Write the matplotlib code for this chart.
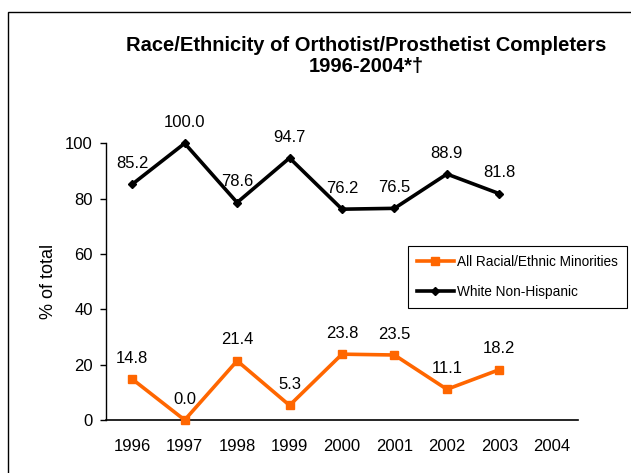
import numpy as np
import matplotlib.pyplot as plt
from matplotlib.patches import Rectangle

plt.rcParams['font.family'] = ['Liberation Sans', 'DejaVu Sans']

# data
years = ['1996', '1997', '1998', '1999', '2000', '2001', '2002', '2003', '2004']
minorities = [14.8, 0.0, 21.4, 5.3, 23.8, 23.5, 11.1, 18.2, np.nan]
white = [85.2, 100.0, 78.6, 94.7, 76.2, 76.5, 88.9, 81.8, np.nan]
yticks = [0, 20, 40, 60, 80, 100]

orange = '#FF6600'

fig = plt.figure(figsize=(6.31, 4.73), dpi=100)
ax = fig.add_axes([0.168, 0.112, 0.748, 0.585])

x = np.arange(len(years))
ax.plot(x, minorities, color=orange, lw=2.6, marker='s', ms=6,
        label='All Racial/Ethnic Minorities', clip_on=False, zorder=3)
ax.plot(x, white, color='black', lw=2.6, marker='D', ms=4.5,
        label='White Non-Hispanic', clip_on=False, zorder=3)

# value labels above each point
for xs, ys in [(x, minorities), (x, white)]:
    for xi, yi in zip(xs, ys):
        if np.isnan(yi):
            continue
        ax.annotate('%.1f' % yi, (xi, yi), xytext=(0, 15), textcoords='offset points',
                    ha='center', va='center', fontsize=12, annotation_clip=False)

ax.set_xlim(-0.5, len(years) - 0.5)
ax.set_ylim(0, 100)
ax.set_xticks(x)
ax.set_xticklabels(years)
ax.set_yticks(yticks)
ax.tick_params(axis='x', length=0, pad=14, labelsize=12)
ax.tick_params(axis='y', length=4.5, width=1, direction='out', pad=5, labelsize=12)
ax.spines['top'].set_visible(False)
ax.spines['right'].set_visible(False)
ax.spines['left'].set_linewidth(1)
ax.spines['bottom'].set_linewidth(1.2)
ax.set_ylabel('% of total', fontsize=13, labelpad=6)

leg = fig.legend(loc='upper left', bbox_to_anchor=(408 / 631, 1 - 246 / 473),
                 borderaxespad=0, fontsize=9.8, frameon=True, fancybox=False,
                 edgecolor='black', framealpha=1, handlelength=2.7, handletextpad=0.25,
                 labelspacing=1.2, borderpad=0.65)
leg.get_frame().set_linewidth(0.8)

fig.text(0.58, 0.882, 'Race/Ethnicity of Orthotist/Prosthetist Completers\n1996-2004*\u2020',
         ha='center', va='center', fontsize=14.5, fontweight='bold', linespacing=1.12)

# outer chart border (runs off the right/bottom edge)
fig.patches.append(Rectangle((8 / 631, -0.1), 1.2, 1 - 11.7 / 473 + 0.1,
                             transform=fig.transFigure, fill=False,
                             edgecolor='black', lw=1))

fig.savefig('out.png', dpi=100)
